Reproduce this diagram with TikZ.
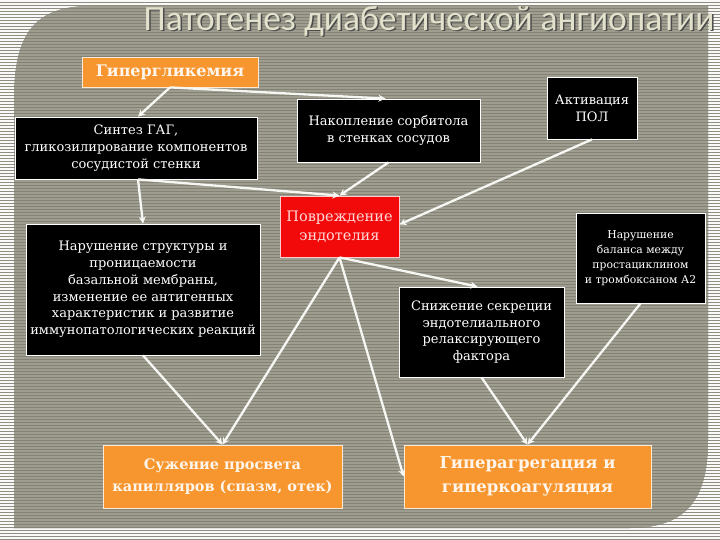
\documentclass[tikz,border=0pt]{standalone}
\usepackage{fontspec}
\setmainfont{DejaVu Serif}
\newfontfamily\titlefont{Carlito}
\usetikzlibrary{arrows.meta}
\definecolor{boxorange}{HTML}{F7962F}
\definecolor{boxred}{HTML}{F20A0A}
\definecolor{bgdark}{HTML}{838275}
\definecolor{bglight}{HTML}{9E9D90}
\definecolor{bgouter}{HTML}{8E8D80}
\definecolor{titlegray}{HTML}{E2E1CC}
\definecolor{linkwhite}{HTML}{F6F6F2}
\tikzset{
  blackbox/.style={draw=white, line width=0.8pt, fill=black, text=white, align=center,
    inner sep=0pt, font=\fontsize{13}{16.8}\selectfont},
  orangebox/.style={draw=white!80!boxorange, line width=0.8pt, fill=boxorange,
    text=white!92!orange, align=center, inner sep=0pt},
  link/.style={draw=linkwhite, line width=2.3pt, -{Stealth[length=7pt,width=7pt]}}
}
\begin{document}
\begin{tikzpicture}[x=1pt,y=-1pt]
  \useasboundingbox (0,0) rectangle (720,540);
  \fill[bgouter] (0,0) rectangle (720,540);
  \foreach \s in {0,3,...,537}
    \draw[white!95!gray, line width=1.4pt] (0,\s+1) -- (720,\s+1);
  \begin{scope}
    \clip (14,528) -- (14,100) .. controls (14,40) and (30,6) .. (90,6) -- (708,6)
      -- (708,440) .. controls (708,495) and (690,528) .. (630,528) -- cycle;
    \fill[bgdark] (0,0) rectangle (720,540);
    \foreach \s in {0,3,...,537}
      \draw[bglight, line width=1.2pt] (0,\s+1) -- (720,\s+1);
  \end{scope}

  \node[text=black!70, font=\titlefont\fontsize{35.5}{38}\selectfont] (titleshadow) at (430.5,22.5)
    {Патогенез диабетической ангиопатии};
  \node[text=titlegray, font=\titlefont\fontsize{35.5}{38}\selectfont] (title) at (429,21)
    {Патогенез диабетической ангиопатии};

  \node[orangebox, minimum width=176pt, minimum height=30pt, font=\bfseries\fontsize{16}{18}\selectfont]
    (hyper) at (170,72) {Гипергликемия};
  \node[blackbox, minimum width=242pt, minimum height=62pt] (sintez) at (136,148)
    {Синтез ГАГ,\\ гликозилирование компонентов\\ сосудистой стенки};
  \node[blackbox, minimum width=183pt, minimum height=63pt] (nakop) at (388.5,130.5)
    {Накопление сорбитола\\ в стенках сосудов};
  \node[blackbox, minimum width=90pt, minimum height=62pt] (aktiv) at (592,108)
    {Активация\\ ПОЛ};
  \node[draw=white!80!red, line width=0.8pt, fill=boxred, text=white!85!red, align=center, inner sep=0pt,
    minimum width=119pt, minimum height=61pt, font=\fontsize{14.5}{19}\selectfont]
    (povr) at (339.5,226.5) {Повреждение\\ эндотелия};
  \node[blackbox, minimum width=234pt, minimum height=131pt] (narstr) at (143,289.5)
    {Нарушение структуры и\\ проницаемости\\ базальной мембраны,\\ изменение ее антигенных\\ характеристик и развитие\\ иммунопатологических реакций};
  \node[blackbox, minimum width=129pt, minimum height=90pt, font=\fontsize{10.8}{15}\selectfont]
    (narbal) at (640.5,258) {Нарушение\\ баланса между\\ простациклином\\ и тромбоксаном А2};
  \node[blackbox, minimum width=165pt, minimum height=90pt] (snizh) at (481.5,332)
    {Снижение секреции\\ эндотелиального\\ релаксирующего\\ фактора};
  \node[orangebox, minimum width=239pt, minimum height=63pt, font=\bfseries\fontsize{14.5}{22}\selectfont]
    (suzh) at (222.5,476.5) {Сужение просвета\\ капилляров (спазм, отек)};
  \node[orangebox, minimum width=247pt, minimum height=63pt, font=\bfseries\fontsize{16.5}{24}\selectfont]
    (giper) at (527.5,476.5) {Гиперагрегация и\\ гиперкоагуляция};

  \draw[link] (hyper.south) -- ([xshift=2pt]sintez.north);
  \draw[link] (hyper.south) -- ([xshift=-3pt]nakop.north);
  \draw[link] ([xshift=2pt]sintez.south) -- (narstr.north);
  \draw[link] ([xshift=2pt]sintez.south) -- (povr.north);
  \draw[link] (nakop.south) -- (povr.north);
  \draw[link] (aktiv.south) -- ([yshift=2pt]povr.east);
  \draw[link] (povr.south) -- ([xshift=-4pt]snizh.north);
  \draw[link] (narstr.south) -- (suzh.north);
  \draw[link] (povr.south) -- (suzh.north);
  \draw[link] (povr.south) -- (giper.west);
  \draw[link] (snizh.south) -- (giper.north);
  \draw[link] (narbal.south) -- (giper.north);
\end{tikzpicture}
\end{document}
